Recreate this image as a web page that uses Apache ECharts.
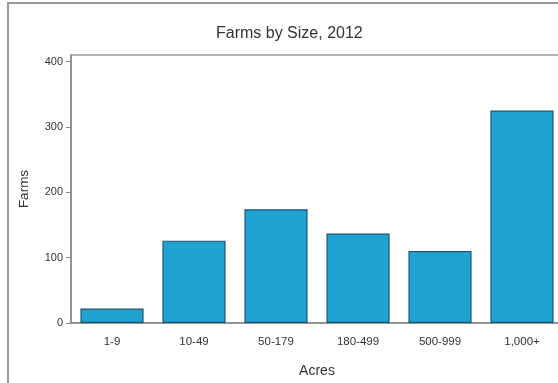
<!DOCTYPE html>
<html>
<head>
<meta charset="utf-8">
<script src="https://cdn.jsdelivr.net/npm/echarts@6/dist/echarts.min.js"></script>
<style>
html,body{margin:0;padding:0;background:#fff;overflow:hidden;width:558px;height:383px;}
#chart{width:566px;height:383px;}
</style>
</head>
<body>
<div id="chart"></div>
<script>
var categories = ['1-9', '10-49', '50-179', '180-499', '500-999', '1,000+'];
var farms = [22, 126, 174, 137, 110, 325];
var yTicks = [0, 100, 200, 300, 400];

var chart = echarts.init(document.getElementById('chart'), null, {renderer: 'canvas'});
var font = 'Liberation Sans, Arial, sans-serif';
chart.setOption({
  animation: false,
  backgroundColor: '#fff',
  title: {
    text: 'Farms by Size, 2012',
    left: 211,
    top: 21,
    textStyle: {fontFamily: font, fontSize: 16, fontWeight: 'normal', color: '#333'}
  },
  graphic: [{
    type: 'rect',
    shape: {x: 8, y: 3, width: 620, height: 420},
    style: {fill: null, stroke: '#999', lineWidth: 2},
    silent: true,
    z: -1
  }],
  grid: {
    left: 71, top: 55, width: 492, height: 269,
    show: true, borderColor: '#999', borderWidth: 1.5, backgroundColor: 'transparent'
  },
  xAxis: {
    type: 'category',
    data: categories,
    name: 'Acres',
    nameLocation: 'middle',
    nameGap: 41,
    nameTextStyle: {fontFamily: font, fontSize: 14, color: '#333'},
    axisLine: {lineStyle: {color: '#888', width: 1.5}},
    axisTick: {show: false},
    axisLabel: {fontFamily: font, fontSize: 11.5, color: '#333', margin: 13}
  },
  yAxis: {
    type: 'value',
    min: 0,
    max: 410,
    interval: 100,
    name: 'Farms',
    nameLocation: 'middle',
    nameGap: 40,
    nameTextStyle: {fontFamily: font, fontSize: 13.5, color: '#333'},
    axisLine: {show: true, lineStyle: {color: '#888', width: 1.5}},
    axisTick: {show: true, length: 5, customValues: yTicks, lineStyle: {color: '#888'}},
    axisLabel: {fontFamily: font, fontSize: 11, color: '#333', margin: 8, customValues: yTicks},
    splitLine: {show: false}
  },
  series: [{
    type: 'bar',
    data: farms,
    barCategoryGap: '23%',
    itemStyle: {color: '#21a3d1', borderColor: '#1b5470', borderWidth: 1.2}
  }]
});
</script>
</body>
</html>
